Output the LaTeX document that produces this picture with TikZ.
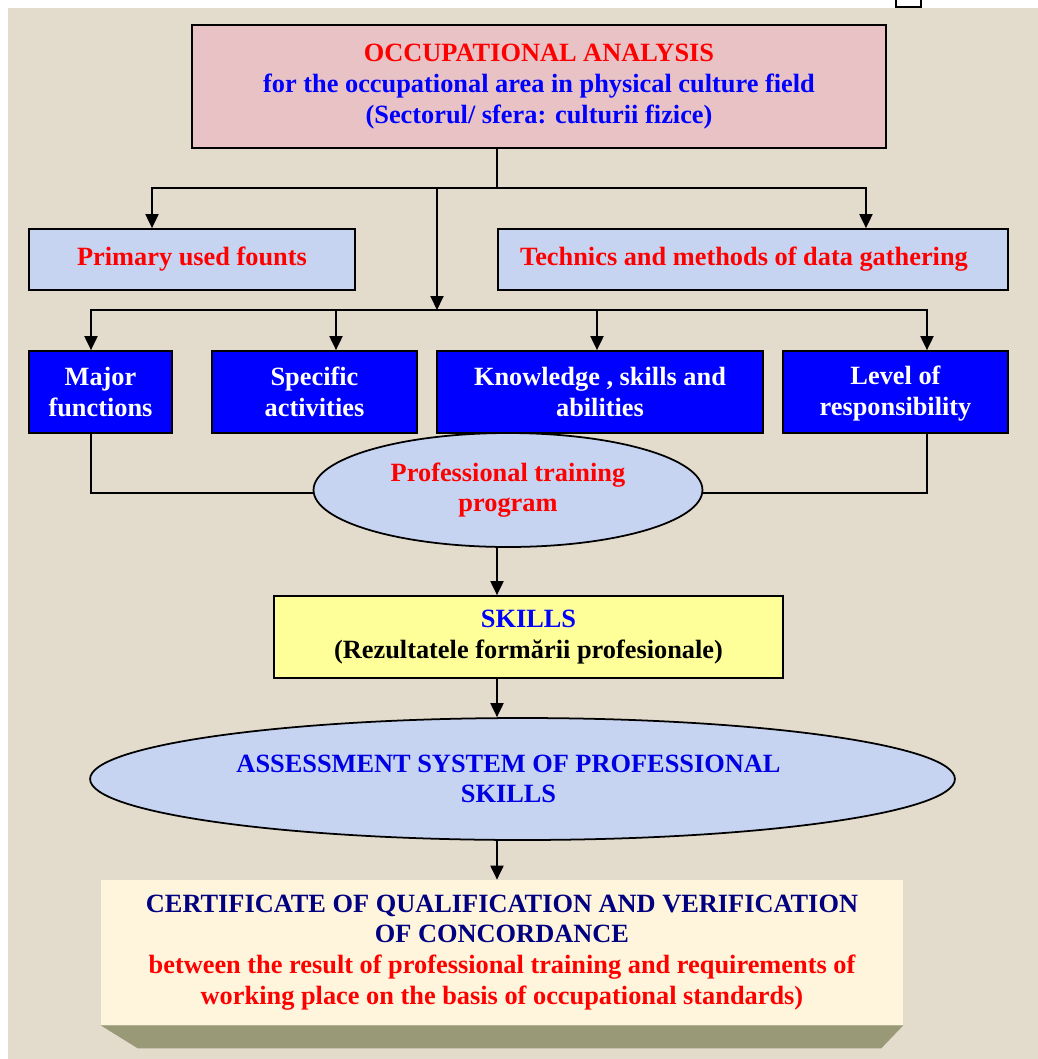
\documentclass[tikz,border=0pt]{standalone}
\usepackage{fontspec}
\setmainfont{Liberation Serif}
\usetikzlibrary{arrows.meta,shapes.geometric}
\definecolor{paper}{HTML}{E3DBCC}
\definecolor{rosebox}{HTML}{E9C2C6}
\definecolor{skybox}{HTML}{C6D4F2}
\definecolor{lemon}{HTML}{FFFF99}
\definecolor{cream}{HTML}{FFF5DC}
\definecolor{bevel}{HTML}{999977}
\definecolor{navy}{HTML}{000080}
\begin{document}
\begin{tikzpicture}[x=0.02cm, y=-0.02cm,
        txt/.style={font=\fontsize{15}{17.5}\selectfont\bfseries, align=center, inner sep=0pt},
        framed/.style={txt, draw=black, line width=1pt, rectangle},
        bluebox/.style={framed, fill=blue, text=white, minimum height=1.64cm},
        oval/.style={txt, draw=black, line width=1pt, ellipse, fill=skybox},
        arr/.style={line width=1.1pt, -{Triangle[length=0.28cm,width=0.26cm]}},
        wire/.style={line width=0.8pt}]
        \useasboundingbox (0,0) rectangle (1038,1059);
        \fill[white] (0,0) rectangle (1038,1059);
        \fill[paper] (8,8) rectangle (1038,1059);
        \draw[fill=white, line width=0.8pt] (896,-4) rectangle (921,7);

        \node[framed, fill=rosebox, minimum width=13.88cm, minimum height=2.46cm] (occ) at (539,86.5)
            {\textcolor{red}{OCCUPATIONAL ANALYSIS}\\
             \textcolor{blue}{for the occupational area in physical culture field}\\
             \textcolor{blue}{(Sectorul/ sfera: culturii fizice)}};

        \node[framed, fill=skybox, text=red, minimum width=6.52cm, minimum height=1.22cm] (founts) at (192,259.5)
            {Primary used founts};
        \node[framed, fill=skybox, text=red, minimum width=10.2cm, minimum height=1.22cm] (gather) at (753,259.5)
            {Technics and methods of data gathering\hspace*{0.36cm}};

        \node[bluebox, minimum width=2.86cm] (major) at (100.5,392) {Major\\functions};
        \node[bluebox, minimum width=4.1cm] (spec) at (314.5,392) {Specific\\activities};
        \node[bluebox, minimum width=6.52cm] (know) at (600,392) {Knowledge , skills and\\abilities};
        \node[bluebox, minimum width=4.5cm] (level) at (895.5,392) {Level of\strut\\responsibility};

        \node[oval, text=red, minimum width=7.78cm, minimum height=2.28cm] (prog) at (508,490)
            {Professional training\\program};

        \node[framed, fill=lemon, minimum width=10.18cm, minimum height=1.64cm] (skills) at (528.5,637)
            {\textcolor{blue}{SKILLS}\\(Rezultatele formării profesionale)};

        \node[oval, text=blue!90!black, minimum width=17.3cm, minimum height=2.44cm] (assess) at (522.5,779)
            {ASSESSMENT SYSTEM OF PROFESSIONAL\hspace*{0.56cm}\\SKILLS\hspace*{0.56cm}};

        \node[txt, fill=cream, minimum width=16.04cm, minimum height=2.9cm] (cert) at (502,952.5)
            {\textcolor{navy}{CERTIFICATE OF QUALIFICATION AND VERIFICATION}\\
             \textcolor{navy}{OF CONCORDANCE}\\
             \textcolor{red}{between the result of professional training and requirements of}\\
             \textcolor{red}{working place on the basis of occupational standards)}};
        \fill[bevel] (cert.south west) -- (cert.south east) -- ++(-0.44cm,-0.46cm)
            -- ([shift={(0.74cm,-0.46cm)}]cert.south west) -- cycle;

        \coordinate (split) at (497,188);
        \coordinate (bus) at (437,310);
        \draw[line width=1.1pt] (occ.south -| split) -- (split);
        \draw[arr] (split) -| ([xshift=-0.8cm]founts.north);
        \draw[arr] (split) -| ([xshift=2.26cm]gather.north);
        \draw[arr] (split -| bus) -- (bus);
        \draw[arr] (bus) -| ([xshift=-0.19cm]major.north);
        \draw[arr] (bus) -| ([xshift=0.43cm]spec.north);
        \draw[arr] (bus) -| ([xshift=-0.06cm]know.north);
        \draw[arr] (bus) -| ([xshift=0.63cm]level.north);

        \draw[wire] ([xshift=-0.19cm]major.south) |- ([yshift=-0.06cm]prog.west);
        \draw[wire] ([xshift=0.63cm]level.south) |- ([yshift=-0.06cm]prog.east);

        \draw[arr] (prog.south -| split) -- (skills.north -| split);
        \draw[arr] (skills.south -| split) -- (assess.north -| split);
        \draw[arr] (assess.south -| split) -- (cert.north -| split);
    \end{tikzpicture}
\end{document}
